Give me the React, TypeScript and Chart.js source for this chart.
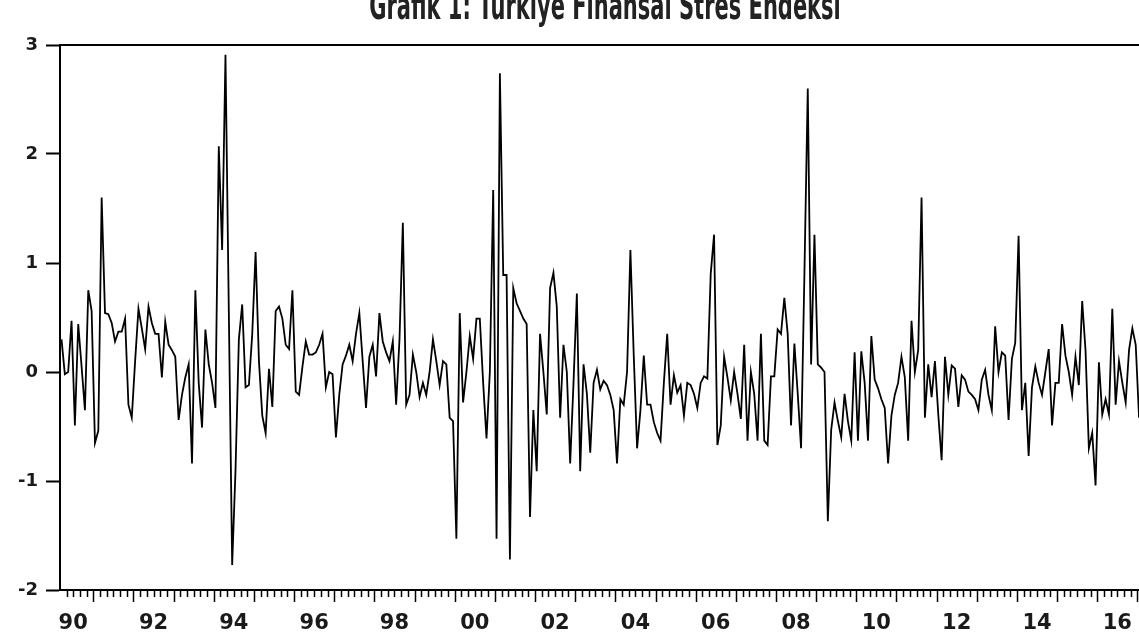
import { useEffect, useRef } from "react";
import { Chart, registerables } from "chart.js";

Chart.register(...registerables);

const titleText = "Grafik 1: Türkiye Finansal Stres Endeksi";
const startYear = 1990;
const startMonth = 3;

// Monthly stress index values, 1990M03 onwards
const fsiValues = [
  0.30, -0.02, 0.00, 0.47, -0.49, 0.44, 0.05, -0.35, 0.75, 0.56,
  -0.65, -0.54, 1.60, 0.54, 0.53, 0.45, 0.28, 0.37, 0.37, 0.49,
  -0.30, -0.42, 0.10, 0.58, 0.40, 0.21, 0.60, 0.45, 0.35, 0.35,
  -0.05, 0.46, 0.25, 0.20, 0.14, -0.44, -0.21, -0.05, 0.07, -0.84,
  0.75, -0.10, -0.51, 0.39, 0.07, -0.10, -0.33, 2.07, 1.12, 2.91,
  0.55, -1.77, -0.90, 0.30, 0.62, -0.14, -0.12, 0.35, 1.10, 0.10,
  -0.40, -0.56, 0.03, -0.32, 0.56, 0.60, 0.49, 0.25, 0.21, 0.75,
  -0.18, -0.21, 0.05, 0.28, 0.16, 0.16, 0.18, 0.25, 0.35, -0.14,
  0.00, -0.02, -0.60, -0.21, 0.07, 0.15, 0.25, 0.10, 0.35, 0.54,
  0.10, -0.33, 0.14, 0.25, -0.04, 0.54, 0.28, 0.18, 0.10, 0.28,
  -0.30, 0.30, 1.37, -0.30, -0.21, 0.16, 0.00, -0.23, -0.10, -0.21,
  0.00, 0.30, 0.10, -0.12, 0.10, 0.07, -0.42, -0.45, -1.53, 0.54,
  -0.28, 0.00, 0.33, 0.12, 0.49, 0.49, -0.10, -0.61, 0.00, 1.67,
  -1.53, 2.74, 0.89, 0.89, -1.72, 0.77, 0.63, 0.56, 0.49, 0.44,
  -1.33, -0.35, -0.91, 0.35, 0.00, -0.39, 0.77, 0.91, 0.60, -0.42,
  0.25, 0.00, -0.84, -0.10, 0.72, -0.91, 0.07, -0.20, -0.74, -0.10,
  0.02, -0.16, -0.08, -0.12, -0.21, -0.35, -0.84, -0.25, -0.30, 0.00,
  1.12, 0.15, -0.70, -0.35, 0.15, -0.30, -0.30, -0.46, -0.56, -0.63,
  -0.10, 0.35, -0.30, -0.03, -0.19, -0.12, -0.40, -0.10, -0.12, -0.20,
  -0.33, -0.10, -0.04, -0.06, 0.90, 1.26, -0.67, -0.49, 0.14, -0.05,
  -0.26, 0.00, -0.20, -0.43, 0.25, -0.63, 0.00, -0.20, -0.63, 0.35,
  -0.63, -0.67, -0.04, -0.04, 0.39, 0.35, 0.68, 0.35, -0.49, 0.26,
  -0.20, -0.70, 0.90, 2.60, 0.07, 1.26, 0.07, 0.04, 0.00, -1.37,
  -0.53, -0.28, -0.45, -0.60, -0.20, -0.45, -0.63, 0.18, -0.63, 0.19,
  -0.10, -0.63, 0.33, -0.07, -0.15, -0.25, -0.33, -0.84, -0.40, -0.21,
  -0.10, 0.14, -0.05, -0.63, 0.47, 0.00, 0.20, 1.60, -0.42, 0.07,
  -0.23, 0.10, -0.39, -0.81, 0.14, -0.21, 0.06, 0.03, -0.32, -0.03,
  -0.07, -0.18, -0.21, -0.25, -0.35, -0.07, 0.02, -0.21, -0.35, 0.42,
  0.00, 0.18, 0.15, -0.44, 0.12, 0.27, 1.25, -0.35, -0.10, -0.77,
  -0.14, 0.05, -0.10, -0.21, 0.00, 0.21, -0.49, -0.10, -0.10, 0.44,
  0.15, 0.00, -0.21, 0.14, -0.12, 0.65, 0.20, -0.70, -0.56, -1.04,
  0.09, -0.39, -0.25, -0.39, 0.58, -0.30, 0.10, -0.10, -0.28, 0.20,
  0.40, 0.25, -0.42,
];

const labelYears = [1990, 1992, 1994, 1996, 1998, 2000, 2002, 2004, 2006, 2008, 2010, 2012, 2014, 2016];
const yearLabels = ["90", "92", "94", "96", "98", "00", "02", "04", "06", "08", "10", "12", "14", "16"];
const yTicks = [-2, -1, 0, 1, 2, 3];

const X_MIN = 1990.171;
const X_MAX = 2017.04;

const months = fsiValues.map((_, i) => {
  const t = startMonth - 1 + i;
  return `${startYear + Math.floor(t / 12)}M${String((t % 12) + 1).padStart(2, "0")}`;
});

const FONT = "'DejaVu Sans', Verdana, sans-serif";

const decorPlugin = {
  id: "decor",
  afterDraw(chart: any) {
    const { ctx, chartArea } = chart;
    const x = chart.scales.x;
    ctx.save();
    // top frame line
    ctx.strokeStyle = "#000";
    ctx.lineWidth = 2;
    ctx.beginPath();
    ctx.moveTo(chartArea.left - 1, chartArea.top);
    ctx.lineTo(chart.width + 2, chartArea.top);
    ctx.stroke();
    // x tick marks: long at each year start, short every two months
    ctx.lineWidth = 1.5;
    for (let yr = 1990; yr <= 2017; yr++) {
      for (let j = 0; j < 6; j++) {
        const v = yr + j / 6;
        if (v <= x.min || v > x.max) continue;
        const px = Math.round(x.getPixelForValue(v)) + 0.5;
        const len = j === 0 ? 11 : 6;
        ctx.beginPath();
        ctx.moveTo(px, chartArea.bottom + 1);
        ctx.lineTo(px, chartArea.bottom + 1 + len);
        ctx.stroke();
      }
    }
    // title (upper part cut off by the page edge)
    ctx.fillStyle = "#222";
    ctx.font = `bold 21px ${FONT}`;
    ctx.textAlign = "center";
    ctx.textBaseline = "alphabetic";
    ctx.translate(605, 19);
    ctx.scale(1, 1.9);
    ctx.fillText(titleText, 0, 0);
    ctx.restore();
  },
};

export default function App() {
  const ref = useRef<HTMLCanvasElement | null>(null);

  useEffect(() => {
    if (!ref.current) return;
    const points = fsiValues.map((v, i) => ({
      x: startYear + (startMonth - 1 + i + 0.5) / 12,
      y: v,
      label: months[i],
    }));
    const chart = new Chart(ref.current, {
      type: "line",
      data: {
        datasets: [
          {
            label: "FSI",
            data: points,
            borderColor: "#000",
            borderWidth: 1.8,
            pointRadius: 0,
            tension: 0,
            fill: false,
          },
        ],
      },
      options: {
        animation: false,
        responsive: false,
        maintainAspectRatio: false,
        layout: { padding: { top: 45, left: 0, right: 0, bottom: 0 } },
        plugins: {
          legend: { display: false },
          tooltip: { enabled: false },
          title: { display: false },
        },
        scales: {
          x: {
            type: "linear",
            min: X_MIN,
            max: X_MAX,
            afterBuildTicks: (s: any) => {
              s.ticks = labelYears.map((y) => ({ value: y + 0.5 }));
            },
            afterFit: (s: any) => {
              s.height = 49;
              s.paddingLeft = 0;
              s.paddingRight = 0;
            },
            ticks: {
              autoSkip: false,
              maxRotation: 0,
              padding: 21,
              color: "#1a1a1a",
              font: { family: FONT, size: 21, weight: "bold" },
              callback: (v: any) => {
                const idx = labelYears.indexOf(Math.round(Number(v) - 0.5));
                return idx >= 0 ? yearLabels[idx] : "";
              },
            },
            grid: { display: true, drawOnChartArea: false, drawTicks: false },
            border: { display: true, color: "#000", width: 2 },
          },
          y: {
            min: -2,
            max: 3,
            afterBuildTicks: (s: any) => {
              s.ticks = yTicks.map((v) => ({ value: v }));
            },
            afterFit: (s: any) => {
              s.width = 60;
              s.paddingTop = 0;
              s.paddingBottom = 0;
            },
            ticks: {
              padding: 8,
              color: "#1a1a1a",
              font: { family: FONT, size: 18, weight: "bold" },
            },
            grid: {
              drawOnChartArea: false,
              drawTicks: true,
              tickLength: 14,
              tickColor: "#000",
              tickWidth: 2,
            },
            border: { display: true, color: "#000", width: 2 },
          },
        },
      },
      plugins: [decorPlugin],
    } as any);
    return () => chart.destroy();
  }, []);

  return (
    <div
      style={{
        position: "fixed",
        left: 0,
        top: 0,
        width: 1139,
        height: 639,
        overflow: "hidden",
        background: "#fff",
      }}
    >
      <canvas ref={ref} width={1139} height={639} style={{ display: "block" }} />
    </div>
  );
}
